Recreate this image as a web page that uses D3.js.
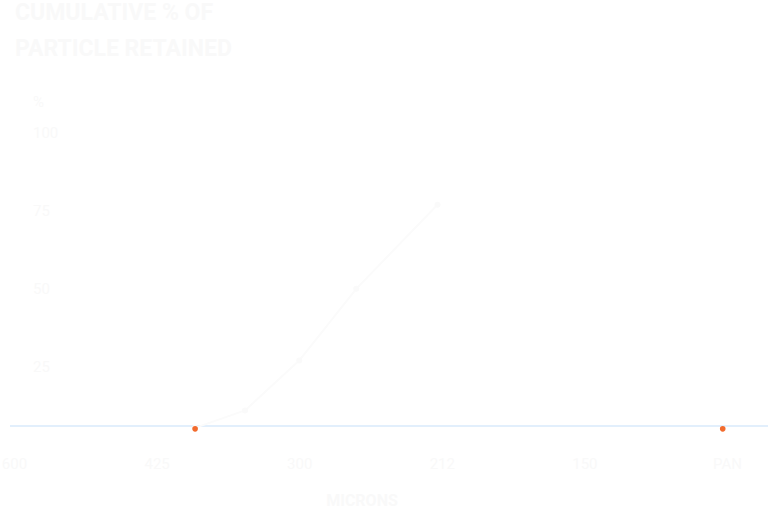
<!DOCTYPE html>
<html>
<head>
<meta charset="utf-8">
<script src="https://cdn.jsdelivr.net/npm/d3@7"></script>
<style>
	body { margin: 0; background: #ffffff; }
	svg { display: block; font-family: Roboto, "DejaVu Sans", sans-serif; }
</style>
</head>
<body>
<svg id="chart" width="768" height="513"></svg>
<script>
// sieve positions (index along the axis) and their labels
var sieveTicks = [0, 1, 2, 3, 4, 5];
var sieveLabels = ["600", "425", "300", "212", "150", "PAN"];

// cumulative % retained curve
var curveX = [1.27, 1.62, 2.0, 2.4, 2.97];
var curveY = [5.4, 11, 27, 50, 77];

// highlighted sieve points
var markX = [1.27, 4.97];
var markY = [5.4, 5.4];

var yTicks = [25, 50, 75, 100];

var titleLines = ["CUMULATIVE % OF", "PARTICLE RETAINED"];

var textColor = "#f9f9f9";

var svg = d3.select("#chart");

var x = d3.scaleLinear()
	.domain([0, 5])
	.range([14, 727]);

var y = d3.scaleLinear()
	.domain([6, 100])
	.range([426, 133]);

// title
svg.append("g").selectAll("text")
	.data(titleLines)
	.enter().append("text")
	.attr("x", 15)
	.attr("y", function(d, i) { return 20 + i * 36; })
	.attr("fill", textColor)
	.attr("font-size", 23)
	.attr("font-weight", "bold")
	.text(function(d) { return d; });

// y axis, labels only
var yAxis = svg.append("g")
	.attr("transform", "translate(33,0)")
	.call(d3.axisRight(y).tickValues(yTicks).tickSize(0).tickPadding(0));
yAxis.select(".domain").remove();
yAxis.selectAll("text")
	.attr("fill", textColor)
	.attr("font-size", 15)
	.attr("font-family", "Roboto, sans-serif");

svg.append("text")
	.attr("x", 33)
	.attr("y", 107)
	.attr("fill", textColor)
	.attr("font-size", 15)
	.text("%");

// baseline
svg.append("line")
	.attr("x1", 10)
	.attr("x2", 768)
	.attr("y1", y(6))
	.attr("y2", y(6))
	.attr("stroke", "#d9eafb")
	.attr("stroke-width", 1.5);

// x axis labels
var xAxis = svg.append("g")
	.attr("transform", "translate(0,458)")
	.call(d3.axisBottom(x).tickValues(sieveTicks)
		.tickFormat(function(d, i) { return sieveLabels[i]; })
		.tickSize(0).tickPadding(0));
xAxis.select(".domain").remove();
xAxis.selectAll("text")
	.attr("fill", textColor)
	.attr("font-size", 15)
	.attr("font-family", "Roboto, sans-serif");

svg.append("text")
	.attr("x", 362)
	.attr("y", 506)
	.attr("text-anchor", "middle")
	.attr("fill", textColor)
	.attr("font-size", 16)
	.attr("font-weight", "bold")
	.text("MICRONS");

// curve
var line = d3.line()
	.x(function(d) { return x(d[0]); })
	.y(function(d) { return y(d[1]); });

var curve = curveX.map(function(d, i) { return [d, curveY[i]]; });

svg.append("path")
	.datum(curve)
	.attr("fill", "none")
	.attr("stroke", "#fbfbfb")
	.attr("stroke-width", 2)
	.attr("stroke-linejoin", "round")
	.attr("d", line);

svg.append("g").selectAll("circle")
	.data(curve)
	.enter().append("circle")
	.attr("cx", function(d) { return x(d[0]); })
	.attr("cy", function(d) { return y(d[1]); })
	.attr("r", 3)
	.attr("fill", "#fafafa");

// orange markers
svg.append("g").selectAll("circle")
	.data(markX)
	.enter().append("circle")
	.attr("cx", function(d) { return x(d); })
	.attr("cy", function(d, i) { return y(markY[i]) + 1; })
	.attr("r", 2.8)
	.attr("fill", "#f26b2d");
</script>
</body>
</html>
